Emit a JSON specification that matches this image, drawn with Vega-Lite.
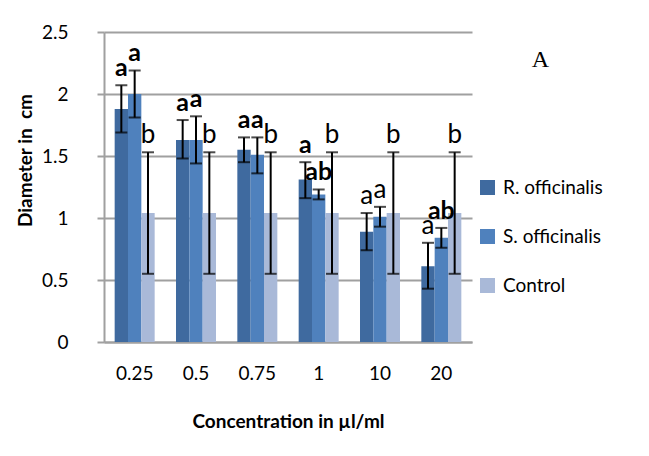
{
  "$schema": "https://vega.github.io/schema/vega-lite/v6.json",
  "autosize": "none",
  "width": 368,
  "height": 310,
  "padding": {"left": 104, "top": 32, "right": 177, "bottom": 114},
  "background": "white",
  "config": {
    "font": "Lato",
    "view": {"stroke": null}
  },
  "title": {
    "text": "A",
    "font": "Liberation Serif",
    "fontSize": 24,
    "fontWeight": "normal",
    "color": "black",
    "anchor": "end",
    "frame": "group",
    "orient": "top",
    "offset": 0,
    "baseline": "alphabetic",
    "dx": 77,
    "dy": 68
  },
  "data": {
    "values": [
      {"conc": "0.25", "series": "R. officinalis", "mean": 1.88, "lo": 1.69, "hi": 2.07, "letter": "a"},
      {"conc": "0.25", "series": "S. officinalis", "mean": 2.00, "lo": 1.81, "hi": 2.19, "letter": "a"},
      {"conc": "0.25", "series": "Control", "mean": 1.04, "lo": 0.55, "hi": 1.53, "letter": "b"},
      {"conc": "0.5", "series": "R. officinalis", "mean": 1.63, "lo": 1.48, "hi": 1.79, "letter": "a"},
      {"conc": "0.5", "series": "S. officinalis", "mean": 1.63, "lo": 1.44, "hi": 1.82, "letter": "a"},
      {"conc": "0.5", "series": "Control", "mean": 1.04, "lo": 0.55, "hi": 1.53, "letter": "b"},
      {"conc": "0.75", "series": "R. officinalis", "mean": 1.55, "lo": 1.45, "hi": 1.65, "letter": "a"},
      {"conc": "0.75", "series": "S. officinalis", "mean": 1.51, "lo": 1.36, "hi": 1.65, "letter": "a"},
      {"conc": "0.75", "series": "Control", "mean": 1.04, "lo": 0.55, "hi": 1.53, "letter": "b"},
      {"conc": "1", "series": "R. officinalis", "mean": 1.31, "lo": 1.16, "hi": 1.45, "letter": "a"},
      {"conc": "1", "series": "S. officinalis", "mean": 1.19, "lo": 1.15, "hi": 1.23, "letter": "ab"},
      {"conc": "1", "series": "Control", "mean": 1.04, "lo": 0.55, "hi": 1.53, "letter": "b"},
      {"conc": "10", "series": "R. officinalis", "mean": 0.89, "lo": 0.74, "hi": 1.04, "letter": "a"},
      {"conc": "10", "series": "S. officinalis", "mean": 1.01, "lo": 0.93, "hi": 1.09, "letter": "a"},
      {"conc": "10", "series": "Control", "mean": 1.04, "lo": 0.55, "hi": 1.53, "letter": "b"},
      {"conc": "20", "series": "R. officinalis", "mean": 0.61, "lo": 0.43, "hi": 0.80, "letter": "a"},
      {"conc": "20", "series": "S. officinalis", "mean": 0.84, "lo": 0.76, "hi": 0.92, "letter": "ab"},
      {"conc": "20", "series": "Control", "mean": 1.04, "lo": 0.55, "hi": 1.53, "letter": "b"}
    ]
  },
  "encoding": {
    "x": {
      "field": "conc",
      "type": "nominal",
      "sort": ["0.25", "0.5", "0.75", "1", "10", "20"],
      "scale": {"paddingInner": 0, "paddingOuter": 0},
      "axis": {
        "title": "Concentration in µl/ml",
        "titleFontSize": 19,
        "titleFontWeight": "bold",
        "titleColor": "black",
        "titlePadding": 29,
        "labelAngle": 0,
        "labelFontSize": 19,
        "labelColor": "black",
        "labelPadding": 22,
        "ticks": false,
        "domainColor": "#a0a0a0",
        "domainWidth": 2
      }
    },
    "xOffset": {
      "field": "series",
      "type": "nominal",
      "sort": ["R. officinalis", "S. officinalis", "Control"],
      "scale": {"paddingInner": 0, "paddingOuter": 0.8}
    },
    "y": {
      "type": "quantitative",
      "scale": {"domain": [0, 2.5], "padding": 0, "nice": false, "zero": true}
    }
  },
  "layer": [
    {
      "mark": {"type": "bar"},
      "encoding": {
        "y": {
          "field": "mean",
          "type": "quantitative",
          "scale": {"domain": [0, 2.5], "padding": 0, "nice": false},
          "axis": {
            "title": "Diameter in\u00a0 cm",
            "titleFontSize": 19,
            "titleFontWeight": "bold",
            "titleColor": "black",
            "titleAngle": 270,
            "titleX": -79,
            "titleY": 128,
            "titleAlign": "center",
            "titleBaseline": "middle",
            "values": [0, 0.5, 1, 1.5, 2, 2.5],
            "format": "~g",
            "labelFontSize": 19,
            "labelColor": "black",
            "labelPadding": 29,
            "tickSize": 7,
            "tickColor": "#a0a0a0",
            "tickWidth": 2,
            "domainColor": "#a0a0a0",
            "domainWidth": 2,
            "gridColor": "#a0a0a0",
            "gridWidth": 2
          }
        },
        "color": {
          "field": "series",
          "type": "nominal",
          "sort": ["R. officinalis", "S. officinalis", "Control"],
          "scale": {
            "domain": ["R. officinalis", "S. officinalis", "Control"],
            "range": ["#3F6A9F", "#4F81BD", "#A9B9D8"]
          },
          "legend": {
            "title": null,
            "orient": "none",
            "legendX": 374,
            "legendY": 146,
            "symbolType": "square",
            "symbolSize": 225,
            "symbolStrokeWidth": 0,
            "labelFontSize": 19,
            "labelColor": "black",
            "labelOffset": 6,
            "rowPadding": 29
          }
        }
      }
    },
    {
      "mark": {"type": "rule", "color": "black", "strokeWidth": 2},
      "encoding": {
        "y": {"field": "lo", "type": "quantitative"},
        "y2": {"field": "hi"}
      }
    },
    {
      "mark": {"type": "tick", "color": "black", "thickness": 2, "size": 12, "orient": "horizontal"},
      "encoding": {
        "y": {"field": "lo", "type": "quantitative"}
      }
    },
    {
      "mark": {"type": "tick", "color": "black", "thickness": 2, "size": 12, "orient": "horizontal"},
      "encoding": {
        "y": {"field": "hi", "type": "quantitative"}
      }
    },
    {
      "transform": [{"filter": "datum.letter != 'b' && datum.conc != '10' && !(datum.conc == '20' && datum.letter == 'a')"}],
      "mark": {"type": "text", "fontSize": 25, "fontWeight": "bold", "baseline": "alphabetic", "dy": -9, "color": "black"},
      "encoding": {
        "y": {"field": "hi", "type": "quantitative"},
        "text": {"field": "letter"}
      }
    },
    {
      "transform": [{"filter": "!(datum.letter != 'b' && datum.conc != '10' && !(datum.conc == '20' && datum.letter == 'a'))"}],
      "mark": {"type": "text", "fontSize": 26, "fontWeight": "normal", "baseline": "alphabetic", "dy": -9, "color": "black"},
      "encoding": {
        "y": {"field": "hi", "type": "quantitative"},
        "text": {"field": "letter"}
      }
    }
  ]
}
